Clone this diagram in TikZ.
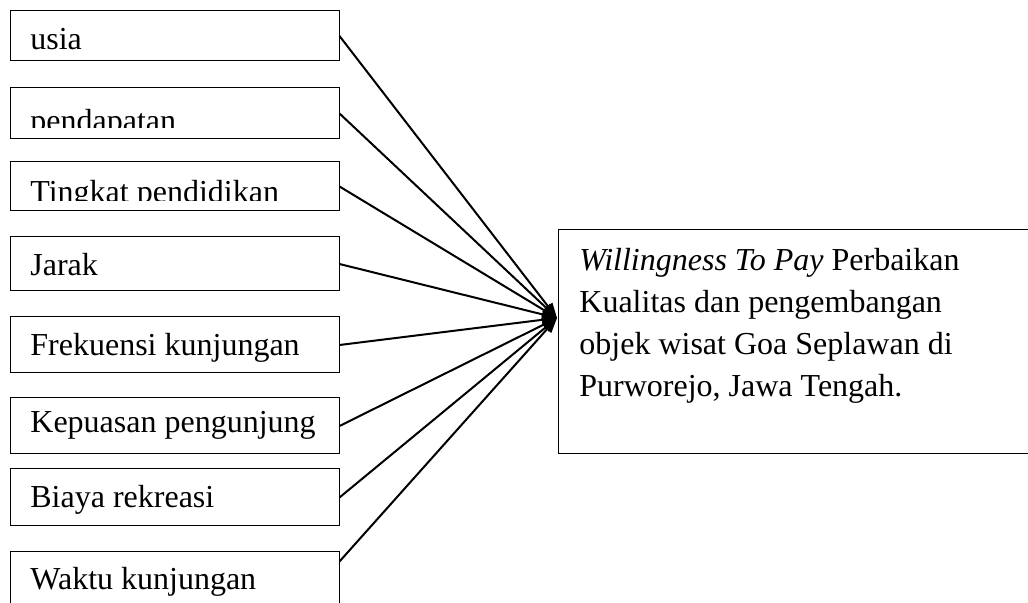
\documentclass[tikz,border=0pt]{standalone}
\usepackage{fontspec}
\setmainfont{Liberation Serif}
\usetikzlibrary{arrows.meta}

\begin{document}
\begin{tikzpicture}[x=0.5pt,y=-0.5pt,
  varbox/.style={rectangle,draw,line width=0.5pt,minimum width=164.5pt,minimum height=#1,inner sep=0pt},
  lbl/.style={anchor=base west,inner sep=0pt,font=\fontsize{16pt}{21pt}\selectfont},
  link/.style={-{Triangle[length=7.5pt,width=5.5pt]},line width=1pt},
]
\useasboundingbox (0,0) rectangle (1028,603);

% === factor boxes (left column) ===
\node[varbox=25pt]   (b1) at (174.5,36)    {};
\node[varbox=25.5pt] (b2) at (174.5,113.5) {};
\node[varbox=24.5pt] (b3) at (174.5,186.5) {};
\node[varbox=27pt]   (b4) at (174.5,264)   {};
\node[varbox=28pt]   (b5) at (174.5,345)   {};
\node[varbox=28pt]   (b6) at (174.5,426)   {};
\node[varbox=28.5pt] (b7) at (174.5,497.5) {};
\node[varbox=44pt]   (b8) at (174.5,596)   {};

\node[lbl] (t1) at (30,50) {usia};
\begin{scope}
  \clip (b2.north west) rectangle (339,128);
  \node[lbl] (t2) at (30,132) {pendapatan};
\end{scope}
\begin{scope}
  \clip (b3.north west) rectangle (339,201);
  \node[lbl] (t3) at (30,203) {Tingkat pendidikan};
\end{scope}
\node[lbl] (t4) at (30,276) {Jarak};
\node[lbl] (t5) at (30,356) {Frekuensi kunjungan};
\node[lbl] (t6) at (30,433) {Kepuasan pengunjung};
\node[lbl] (t7) at (30,508) {Biaya rekreasi};
\node[lbl] (t8) at (30,589) {Waktu kunjungan};

% === outcome box ===
\node[rectangle,draw,line width=0.5pt,minimum width=241pt,minimum height=112pt] (wtp) at (799,342) {};
\node[lbl,text width=220pt,align=flush left] (wtpt) at (579,271)
  {\textit{Willingness To Pay} Perbaikan\\Kualitas dan pengembangan\\objek wisat Goa Seplawan di\\Purworejo, Jawa Tengah.};

% === links ===
\coordinate (tip) at (557,318);
\foreach \b in {b1,b2,b3,b4,b5,b6,b7}
  \draw[link] (\b.east) -- (tip);
\draw[link] ([yshift=-5pt]b8.north east) -- (tip);

\end{tikzpicture}
\end{document}
